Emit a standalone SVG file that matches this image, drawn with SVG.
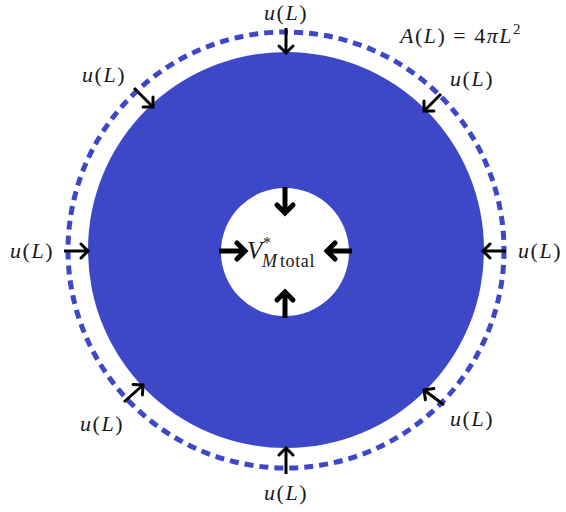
<svg xmlns="http://www.w3.org/2000/svg" width="566" height="512" viewBox="0 0 566 512">
<defs>
<style>
.lbl{font-family:"Liberation Serif","DejaVu Serif",serif;font-size:22px;fill:#1a1a1a;letter-spacing:1.5px}
.it{font-style:italic}
.arr{stroke:#000;stroke-width:3;fill:none;marker-end:url(#head)}
.arrB{stroke:#000;stroke-width:5;fill:none;marker-end:url(#headB)}
</style>
<marker id="head" markerUnits="userSpaceOnUse" markerWidth="20" markerHeight="20" viewBox="-10 -10 20 20" refX="0" refY="0" orient="auto">
<path d="M-7,-7 L0,0 L-7,7" stroke="#000" stroke-width="3" fill="none" stroke-linecap="round"/>
</marker>
<marker id="headB" markerUnits="userSpaceOnUse" markerWidth="24" markerHeight="24" viewBox="-12 -12 24 24" refX="0" refY="0" orient="auto">
<path d="M-8,-8 L0,0 L-8,8" stroke="#000" stroke-width="5" fill="none" stroke-linecap="round"/>
</marker>
</defs>
<rect width="566" height="512" fill="#fff"/>
<g id="boundary">
<circle cx="286" cy="250" r="218" fill="none" stroke="#3c48c8" stroke-width="5" stroke-dasharray="9 6"/>
</g>
<g id="shell">
<circle cx="286" cy="250" r="198" fill="#3c48c8"/>
<circle cx="285" cy="252" r="64" fill="#fff"/>
</g>
<g id="connectors">
<line class="arr" x1="286" y1="28" x2="286" y2="53"/>
<line class="arr" x1="286" y1="474" x2="286" y2="448"/>
<line class="arr" x1="64" y1="251" x2="88" y2="251"/>
<line class="arr" x1="506" y1="251" x2="483" y2="251"/>
<line class="arr" x1="134" y1="88" x2="153" y2="107"/>
<line class="arr" x1="441" y1="94" x2="424" y2="111"/>
<line class="arr" x1="124" y1="402" x2="143" y2="385"/>
<line class="arr" x1="444" y1="405" x2="424" y2="390"/>
<line class="arrB" x1="285" y1="187" x2="285" y2="213"/>
<line class="arrB" x1="285" y1="318" x2="285" y2="292"/>
<line class="arrB" x1="219" y1="251" x2="245" y2="251"/>
<line class="arrB" x1="352" y1="251" x2="327" y2="251"/>
</g>
<g id="labels">
<text class="lbl" x="286" y="20" text-anchor="middle" font-size="21"><tspan class="it">u</tspan>(<tspan class="it">L</tspan>)</text>
<text class="lbl" x="104" y="82" text-anchor="middle"><tspan class="it">u</tspan>(<tspan class="it">L</tspan>)</text>
<text class="lbl" x="472" y="86" text-anchor="middle"><tspan class="it">u</tspan>(<tspan class="it">L</tspan>)</text>
<text class="lbl" x="32" y="258" text-anchor="middle"><tspan class="it">u</tspan>(<tspan class="it">L</tspan>)</text>
<text class="lbl" x="540" y="258" text-anchor="middle"><tspan class="it">u</tspan>(<tspan class="it">L</tspan>)</text>
<text class="lbl" x="102" y="431" text-anchor="middle"><tspan class="it">u</tspan>(<tspan class="it">L</tspan>)</text>
<text class="lbl" x="472" y="426" text-anchor="middle"><tspan class="it">u</tspan>(<tspan class="it">L</tspan>)</text>
<text class="lbl" x="286" y="500" text-anchor="middle"><tspan class="it">u</tspan>(<tspan class="it">L</tspan>)</text>
<text class="lbl" x="400" y="43"><tspan class="it">A</tspan>(<tspan class="it">L</tspan>) = 4<tspan class="it">π</tspan><tspan class="it">L</tspan><tspan font-size="15" dy="-9">2</tspan></text>
<text class="lbl" style="letter-spacing:0"><tspan class="it" x="247" y="259" font-size="25">V</tspan><tspan x="263" y="248" font-size="16">*</tspan><tspan class="it" x="262" y="267" font-size="18">M</tspan><tspan x="280" y="267" font-size="18" style="letter-spacing:0.6px">total</tspan></text>
</g>
</svg>
